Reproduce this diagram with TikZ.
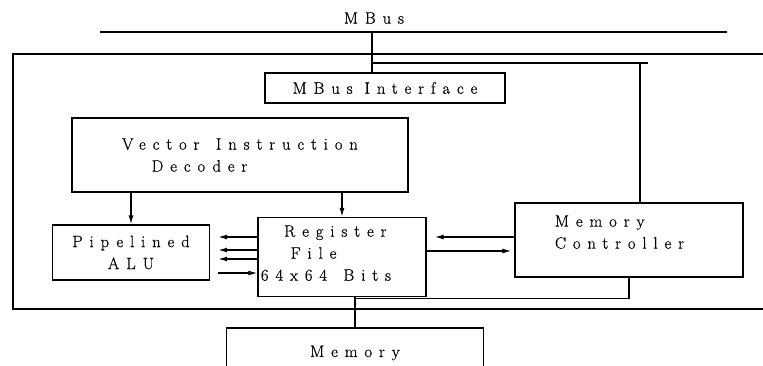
\documentclass[tikz,border=0pt]{standalone}
\usepackage{fontspec}
\newfontfamily\wfont{Latin Modern Roman}[LetterSpace=42,FakeBold=0.6]
\usetikzlibrary{arrows.meta,positioning,calc}
\newcommand\wsp{\hspace{1.0em}}
\tikzset{
  blk/.style   ={draw=black, line width=1.3pt, inner sep=2pt, align=center,
                 font=\wfont\fontsize{16.5}{22}\selectfont},
  lbl/.style   ={font=\wfont\fontsize{16.5}{22}\selectfont},
  wire/.style  ={draw=black, line width=1.3pt},
  ar/.style    ={wire, -{Latex[length=9pt,width=5pt]}},
  aro/.style   ={wire, -{Latex[open,length=9pt,width=5pt]}},
}
\begin{document}
\begin{tikzpicture}[x=1pt,y=-1pt]
\useasboundingbox (0,0) rectangle (763,365);
% bus and frame
\node[lbl] (mbuslbl) at (374,18) {MBus};
\coordinate (busL) at (100,32);
\coordinate (busR) at (727,32);
\coordinate (frTL) at (13,54);
\coordinate (frTR) at (763,54);
\coordinate (frBL) at (13,309);
\coordinate (frBR) at (763,309);
\draw[wire] (busL) -- (busR);
\draw[wire] (frTR) -- (frTL) -- (frBL) -- (frBR);
% blocks
\node[blk, minimum width=240pt, minimum height=30pt] (ifc) at (385,88) {MBus Interface};
\node[blk, minimum width=336pt, minimum height=74pt, text width=236pt, align=left] (vid) at (240,155)
  {Vector\wsp Instruction\\\hspace{1.8em}Decoder};
\node[blk, minimum width=157pt, minimum height=55pt] (alu) at (131,252.5) {Pipelined\\ALU};
\node[blk, minimum width=168pt, minimum height=79pt, text width=162pt, align=left] (rf) at (342,257)
  {\hspace{1.4em}Register\\\hspace{1.8em}File\\64x64\wsp Bits\\[-14pt]\mbox{}};
\node[blk, minimum width=228pt, minimum height=74pt, text width=148pt, align=left] (mc) at (629,240)
  {Memory\\Controller\\[-6pt]\mbox{}};
\begin{scope}
\clip (0,0) rectangle (763,365);
\node[blk, minimum width=257pt, minimum height=50pt] (mem) at (355,353) {Memory};
\end{scope}
% bus taps
\coordinate (tap) at (372,32);
\coordinate (tapj) at (372,63);
\coordinate (mcup) at (640,63);
\coordinate (tapE) at (648,63);
\draw[wire] (tap) -- (tap |- ifc.north);
\draw[wire] (tapj) -- (tapE);
\draw[wire] (mcup) -- (mcup |- mc.north);
% decoder outputs
\draw[ar] (alu.north |- vid.south) -- (alu.north);
\draw[ar] (rf.north |- vid.south) -- (rf.north);
% alu <-> register file
\foreach \d in {-20,-7,2}
  \draw[ar] ($(rf.west)+(0,\d)$) -- ($(alu.east)+(8,\d+4.5)$);
\draw[aro] ($(alu.east)+(8,20.5)$) -- ($(rf.west)+(0,16)$);
% register file <-> memory controller
\draw[ar, shorten >=8pt] ($(mc.west)+(0,-3)$) -- ($(rf.east)+(0,-20)$);
\draw[ar, shorten >=3pt] ($(rf.east)+(0,-6)$) -- ($(mc.west)+(0,11)$);
% memory path
\path (mem.north) ++(0,-29) coordinate (jn);
\draw[wire] (mem.north |- rf.south) -- (mem.north);
\draw[wire] (mc.south) |- (jn);
\end{tikzpicture}
\end{document}
